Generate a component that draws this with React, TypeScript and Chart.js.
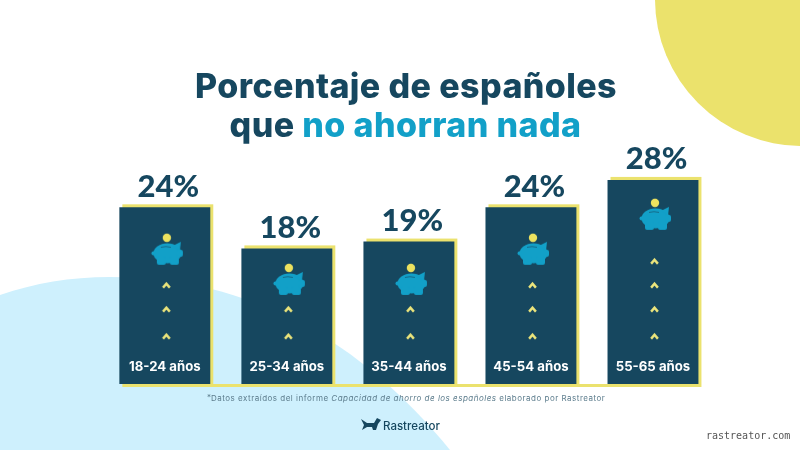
import React, { useEffect, useRef } from 'react';
import { Chart, registerables } from 'chart.js';

Chart.register(...registerables);

const NAVY = '#16475f';
const TEAL = '#12a0c8';
const YELLOW = '#ebe26e';
const SKY = '#cef0fd';
const FONT = 'Inter, sans-serif';
const AXIS_MIN = -1.8;

// data
const ageGroups = ['18-24 años', '25-34 años', '35-44 años', '45-54 años', '55-65 años'];
const percentages = [24, 18, 19, 24, 28];
// icons live on the same value axis as the bars
const piggyLevels = [17.8, 13.4, 13.4, 17.8, 22.9];
const chevronRows = [
  [5.2, 5.2, 5.2, 5.2, 5.2],
  [9.15, 9.15, 9.15, 9.15, 9.15],
  [12.65, null, null, 12.65, 12.65],
  [null, null, null, null, 16.15],
];

const makeIcon = (w: number, h: number, draw: (c: CanvasRenderingContext2D) => void) => {
  const el = document.createElement('canvas');
  el.width = w;
  el.height = h;
  draw(el.getContext('2d') as CanvasRenderingContext2D);
  return el;
};

const piggyIcon = () =>
  makeIcon(38, 34, (c) => {
    c.translate(4, 0);
    c.fillStyle = '#ece25f';
    c.beginPath();
    c.arc(17, 5, 4.2, 0, Math.PI * 2);
    c.fill();
    c.fillStyle = TEAL;
    c.beginPath();
    c.ellipse(17.5, 20.5, 14, 10, 0, 0, Math.PI * 2);
    c.fill();
    // legs
    c.beginPath();
    c.roundRect(7, 24, 9, 8, 2);
    c.roundRect(20, 24, 9, 8, 2);
    c.fill();
    // snout, tail and ear
    c.beginPath();
    c.roundRect(27, 17, 6, 7, 2);
    c.fill();
    c.beginPath();
    c.arc(3.5, 20.5, 2, 0, Math.PI * 2);
    c.fill();
    c.beginPath();
    c.moveTo(23, 13);
    c.lineTo(31, 9);
    c.lineTo(30, 18);
    c.closePath();
    c.fill();
    c.strokeStyle = '#156a89';
    c.lineWidth = 1;
    c.beginPath();
    c.moveTo(11, 14.5);
    c.quadraticCurveTo(16, 13, 21, 14.5);
    c.stroke();
  });

const chevronIcon = () =>
  makeIcon(14, 8, (c) => {
    c.translate(3.5, 0);
    c.strokeStyle = '#ede67c';
    c.lineWidth = 2.4;
    c.beginPath();
    c.moveTo(1.6, 6.6);
    c.lineTo(5, 2.6);
    c.lineTo(8.4, 6.6);
    c.stroke();
  });

const backdrop = {
  id: 'backdrop',
  beforeDraw(chart: any) {
    const { ctx, width, height } = chart;
    ctx.save();
    ctx.fillStyle = '#ffffff';
    ctx.fillRect(0, 0, width, height);
    ctx.fillStyle = '#ebe26c';
    ctx.beginPath();
    ctx.arc(802, -1, 147, 0, Math.PI * 2);
    ctx.fill();
    ctx.fillStyle = SKY;
    ctx.beginPath();
    ctx.moveTo(0, 295);
    ctx.bezierCurveTo(35, 283, 70, 277, 110, 277);
    ctx.bezierCurveTo(250, 277, 360, 340, 450, 450);
    ctx.lineTo(0, 450);
    ctx.closePath();
    ctx.fill();
    ctx.restore();
  },
};

// yellow offset frame behind each bar and the base line
const barFrames = {
  id: 'barFrames',
  beforeDatasetsDraw(chart: any) {
    const { ctx } = chart;
    const bars = chart.getDatasetMeta(0).data;
    ctx.save();
    ctx.fillStyle = YELLOW;
    bars.forEach((bar: any) => {
      ctx.fillRect(bar.x - bar.width / 2 + 3, bar.y - 3, bar.width, bar.base - bar.y + 3);
    });
    const first = bars[0];
    const last = bars[bars.length - 1];
    ctx.fillRect(first.x - first.width / 2 + 3, first.base, last.x + last.width / 2 - first.x + first.width / 2, 3);
    ctx.restore();
  },
};

const texts = {
  id: 'texts',
  afterDatasetsDraw(chart: any) {
    const { ctx } = chart;
    const bars = chart.getDatasetMeta(0).data;
    ctx.save();
    ctx.textBaseline = 'alphabetic';

    // title
    ctx.textAlign = 'center';
    ctx.font = `800 34px ${FONT}`;
    (ctx as any).letterSpacing = '0.4px';
    ctx.fillStyle = NAVY;
    ctx.fillText('Porcentaje de españoles', 406, 98);
    ctx.textAlign = 'left';
    const a = 'que ';
    const b = 'no ahorran nada';
    const total = ctx.measureText(a + b).width;
    const x0 = 405.5 - total / 2;
    ctx.fillText(a, x0, 137);
    ctx.fillStyle = TEAL;
    ctx.fillText(b, x0 + ctx.measureText(a).width, 137);
    (ctx as any).letterSpacing = '0px';

    // value and group labels
    ctx.textAlign = 'center';
    bars.forEach((bar: any, i: number) => {
      ctx.font = '900 31px Lato, sans-serif';
      ctx.fillStyle = NAVY;
      ctx.fillText(`${percentages[i]}%`, bar.x + 3.5, bar.y - 10.5);
      ctx.font = `700 13.2px ${FONT}`;
      ctx.fillStyle = '#ffffff';
      ctx.fillText(ageGroups[i], bar.x, 371);
    });

    // footnote
    ctx.textAlign = 'left';
    ctx.fillStyle = '#5d7d8d';
    (ctx as any).letterSpacing = '0.5px';
    let x = 207;
    const parts: [string, string][] = [
      ['Datos extraídos del informe ', ''],
      ['Capacidad de ahorro de los españoles', 'italic '],
      [' elaborado por Rastreator', ''],
    ];
    ctx.font = `8px ${FONT}`;
    ctx.fillText('*', x, 400);
    x += 4;
    parts.forEach(([t, style]) => {
      ctx.font = `${style}8px ${FONT}`;
      ctx.fillText(t, x, 401);
      x += ctx.measureText(t).width;
    });
    (ctx as any).letterSpacing = '0px';

    // logo
    ctx.fillStyle = NAVY;
    ctx.beginPath();
    ctx.moveTo(361, 419);
    ctx.lineTo(367, 423);
    ctx.lineTo(374, 423);
    ctx.lineTo(377, 418);
    ctx.lineTo(381, 420);
    ctx.lineTo(378, 424);
    ctx.lineTo(376, 430);
    ctx.lineTo(373, 430);
    ctx.lineTo(372, 427);
    ctx.lineTo(367, 427);
    ctx.lineTo(362, 430);
    ctx.lineTo(364, 425);
    ctx.closePath();
    ctx.fill();
    ctx.font = `500 11.5px ${FONT}`;
    ctx.fillText('Rastreator', 383, 430);

    // watermark
    ctx.font = '10px "DejaVu Sans Mono", monospace';
    ctx.fillStyle = '#555555';
    ctx.fillText('rastreator.com', 706, 439);
    ctx.restore();
  },
};

export default function App() {
  const canvasRef = useRef<HTMLCanvasElement>(null);

  useEffect(() => {
    if (!canvasRef.current) return;
    const piggy = piggyIcon();
    const chevron = chevronIcon();

    const chart = new Chart(canvasRef.current, {
      type: 'bar',
      data: {
        labels: ageGroups,
        datasets: [
          {
            type: 'bar',
            data: percentages,
            base: AXIS_MIN,
            backgroundColor: NAVY,
            barPercentage: 0.745,
            categoryPercentage: 1,
            order: 3,
          },
          {
            type: 'line',
            data: piggyLevels,
            showLine: false,
            pointStyle: piggy,
            pointRadius: 10,
            order: 1,
          },
          ...chevronRows.map((row) => ({
            type: 'line',
            data: row,
            showLine: false,
            pointStyle: chevron,
            pointRadius: 4,
            order: 2,
          })),
        ] as any,
      },
      options: {
        responsive: false,
        animation: false,
        devicePixelRatio: 1,
        layout: { padding: { left: 103.8, right: 86, top: 132, bottom: 66 } },
        scales: {
          x: { display: false },
          y: { display: false, min: AXIS_MIN, max: 35 },
        },
        plugins: {
          legend: { display: false },
          tooltip: { enabled: false },
        },
      } as any,
      plugins: [backdrop, barFrames, texts],
    });

    return () => chart.destroy();
  }, []);

  return (
    <div style={{ position: 'absolute', left: 0, top: 0, width: 800, height: 450 }}>
      <canvas ref={canvasRef} width={800} height={450} style={{ display: 'block' }} />
    </div>
  );
}
